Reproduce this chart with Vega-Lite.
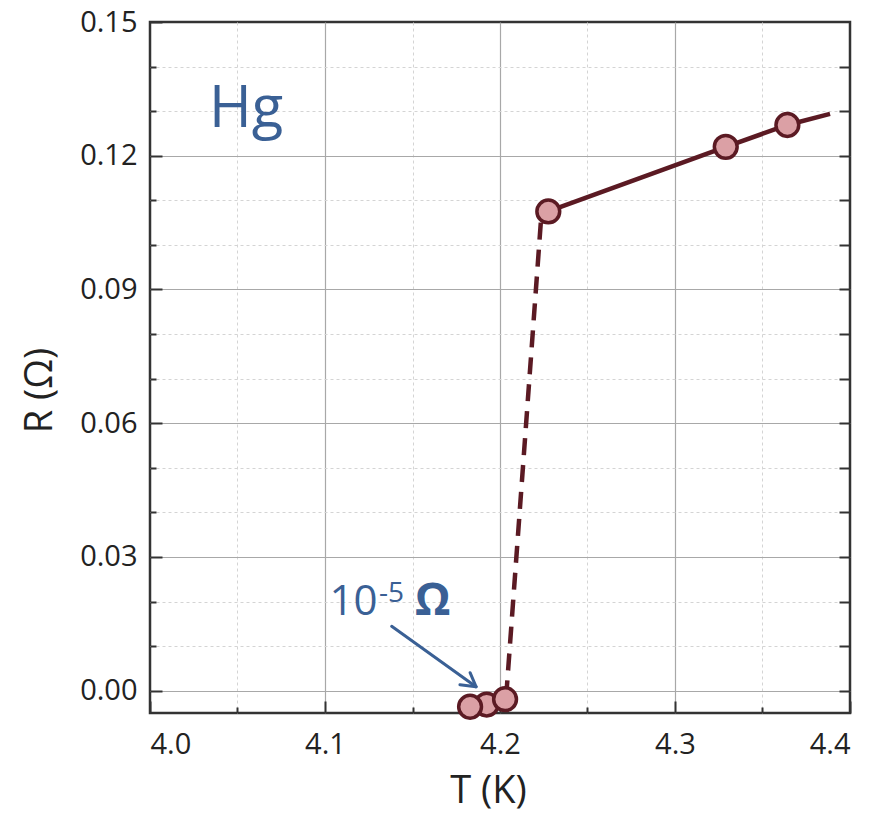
{
  "$schema": "https://vega.github.io/schema/vega-lite/v6.json",
  "width": 700,
  "height": 691,
  "autosize": "none",
  "padding": {"left": 150, "top": 22, "right": 22, "bottom": 101},
  "config": {
    "view": {"stroke": "#333333", "strokeWidth": 2.5},
    "font": "Open Sans",
    "axis": {"labelFont": "Open Sans", "titleFont": "Open Sans", "labelColor": "#222222", "titleColor": "#222222", "tickColor": "#333333", "tickWidth": 2}
  },
  "datasets": {
    "pts": [
      {"T": 4.1924, "R": -0.0031},
      {"T": 4.1829, "R": -0.0036},
      {"T": 4.2029, "R": -0.0019},
      {"T": 4.2276, "R": 0.1075},
      {"T": 4.329, "R": 0.122},
      {"T": 4.3642, "R": 0.1269}
    ],
    "solid": [
      {"T": 4.2276, "R": 0.1075},
      {"T": 4.329, "R": 0.122},
      {"T": 4.3642, "R": 0.1269},
      {"T": 4.3886, "R": 0.1294}
    ],
    "dashed": [
      {"T": 4.2035, "R": -0.0015},
      {"T": 4.2235, "R": 0.106}
    ],
    "arrow": [
      {"T": 4.1381, "R": 0.01444, "T2": 4.1863, "R2": 0.0009},
      {"T": 4.1771, "R": 0.00135, "T2": 4.1863, "R2": 0.0009},
      {"T": 4.1829, "R": 0.00404, "T2": 4.1863, "R2": 0.0009}
    ]
  },
  "resolve": {"axis": {"x": "independent", "y": "independent"}},
  "layer": [
    {
      "data": {"name": "dashed"},
      "mark": {"type": "line", "color": "#5b1a23", "strokeWidth": 4.5, "strokeDash": [17, 10]},
      "encoding": {
        "x": {"field": "T", "type": "quantitative", "scale": {"domain": [4.0, 4.4], "nice": false, "zero": false},
          "axis": {"orient": "bottom", "values": [4.05, 4.15, 4.25, 4.35], "labels": false, "title": null, "domain": false, "tickSize": -6, "grid": true, "gridColor": "#d4d4d4", "gridDash": [3, 3], "gridWidth": 1}},
        "y": {"field": "R", "type": "quantitative", "scale": {"domain": [-0.005, 0.15], "nice": false, "zero": false},
          "axis": {"orient": "left", "values": [0.01, 0.02, 0.04, 0.05, 0.07, 0.08, 0.1, 0.11, 0.13, 0.14], "labels": false, "title": null, "domain": false, "tickSize": -6, "grid": true, "gridColor": "#d4d4d4", "gridDash": [3, 3], "gridWidth": 1}}
      }
    },
    {
      "data": {"name": "solid"},
      "mark": {"type": "line", "color": "#5b1a23", "strokeWidth": 4.5},
      "encoding": {
        "x": {"field": "T", "type": "quantitative",
          "axis": {"orient": "bottom", "values": [4.0, 4.1, 4.2, 4.3, 4.4], "format": ".1f", "labelFontSize": 29, "labelPadding": 29, "domain": false, "tickSize": -12,
            "grid": true, "gridColor": "#a8a8a8", "gridWidth": 1.2,
            "gridOpacity": {"condition": {"test": "datum.value < 4.01 || datum.value > 4.39", "value": 0}, "value": 1},
            "title": "T (K)", "titleFontSize": 38, "titleFontWeight": "normal", "titleX": 338, "titleY": 78, "titleBaseline": "middle", "titleAlign": "center"}},
        "y": {"field": "R", "type": "quantitative",
          "axis": {"orient": "left", "values": [0, 0.03, 0.06, 0.09, 0.12, 0.15], "format": ".2f", "labelFontSize": 29, "labelPadding": 25, "domain": false, "tickSize": -12,
            "grid": true, "gridColor": "#a8a8a8", "gridWidth": 1.2,
            "gridOpacity": {"condition": {"test": "datum.value > 0.149", "value": 0}, "value": 1},
            "title": "R (Ω)", "titleFontSize": 38, "titleFontWeight": "normal", "titleAngle": -90, "titleX": -110, "titleY": 368, "titleBaseline": "middle", "titleAlign": "center"}}
      }
    },
    {
      "data": {"name": "pts"},
      "mark": {"type": "point", "filled": true, "fill": "#dba0a5", "stroke": "#5b1a23", "strokeWidth": 3.5, "size": 520, "opacity": 1, "fillOpacity": 1},
      "encoding": {
        "x": {"field": "T", "type": "quantitative", "axis": null},
        "y": {"field": "R", "type": "quantitative",
          "axis": {"orient": "right", "values": [0, 0.01, 0.02, 0.03, 0.04, 0.05, 0.06, 0.07, 0.08, 0.09, 0.1, 0.11, 0.12, 0.13, 0.14], "labels": false, "title": null, "domain": false, "grid": false, "tickSize": -11}}
      }
    },
    {
      "data": {"name": "arrow"},
      "mark": {"type": "rule", "color": "#3a6095", "strokeWidth": 3, "strokeCap": "round"},
      "encoding": {
        "x": {"field": "T", "type": "quantitative", "axis": null},
        "y": {"field": "R", "type": "quantitative", "axis": null},
        "x2": {"field": "T2"},
        "y2": {"field": "R2"}
      }
    },
    {
      "data": {"values": [{"T": 4.0549, "R": 0.12643, "label": "Hg"}]},
      "mark": {"type": "text", "color": "#3a6095", "fontSize": 58, "align": "center", "baseline": "alphabetic", "font": "Open Sans"},
      "encoding": {
        "x": {"field": "T", "type": "quantitative", "axis": null},
        "y": {"field": "R", "type": "quantitative", "axis": null},
        "text": {"field": "label"}
      }
    },
    {
      "data": {"values": [{"T": 4.1026, "R": 0.01707, "label": "10"}]},
      "mark": {"type": "text", "color": "#3a6095", "fontSize": 42, "align": "left", "baseline": "alphabetic", "font": "Open Sans"},
      "encoding": {
        "x": {"field": "T", "type": "quantitative", "axis": null},
        "y": {"field": "R", "type": "quantitative", "axis": null},
        "text": {"field": "label"}
      }
    },
    {
      "data": {"values": [{"T": 4.1309, "R": 0.01999, "label": "-5"}]},
      "mark": {"type": "text", "color": "#3a6095", "fontSize": 28, "align": "left", "baseline": "alphabetic", "font": "Open Sans"},
      "encoding": {
        "x": {"field": "T", "type": "quantitative", "axis": null},
        "y": {"field": "R", "type": "quantitative", "axis": null},
        "text": {"field": "label"}
      }
    },
    {
      "data": {"values": [{"T": 4.1514, "R": 0.01707, "label": "Ω"}]},
      "mark": {"type": "text", "color": "#3a6095", "fontSize": 45, "fontWeight": "bold", "align": "left", "baseline": "alphabetic", "font": "Open Sans"},
      "encoding": {
        "x": {"field": "T", "type": "quantitative", "axis": null},
        "y": {"field": "R", "type": "quantitative", "axis": null},
        "text": {"field": "label"}
      }
    }
  ]
}
